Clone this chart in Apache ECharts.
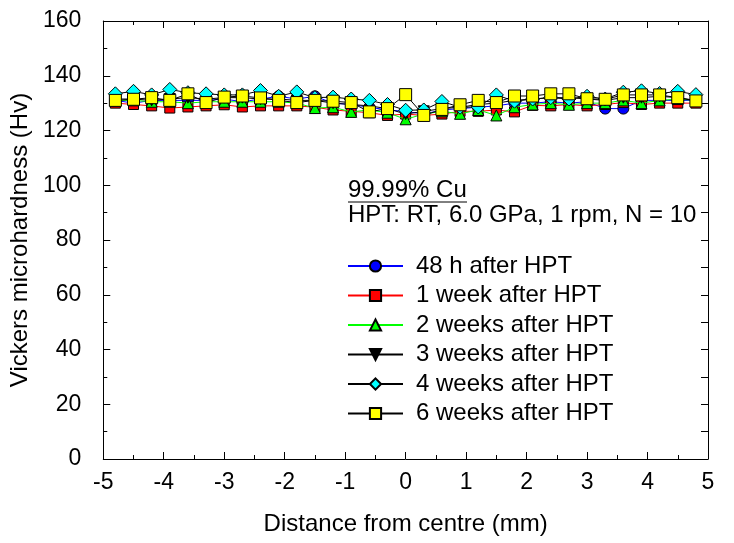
<!DOCTYPE html>
<html><head><meta charset="utf-8">
<script src="https://cdn.jsdelivr.net/npm/echarts@6/dist/echarts.min.js"></script>
<style>html,body{margin:0;padding:0;background:#fff}#c{width:734px;height:543px}</style>
</head><body><div id="c"></div>
<script>
const xPos = [-4.8,-4.5,-4.2,-3.9,-3.6,-3.3,-3.0,-2.7,-2.4,-2.1,-1.8,-1.5,-1.2,-0.9,-0.6,-0.3,0,0.3,0.6,0.9,1.2,1.5,1.8,2.1,2.4,2.7,3.0,3.3,3.6,3.9,4.2,4.5,4.8];
const h48 =   [131,130,131,131,131,131,131.5,130.5,131.5,132.5,131.5,132.5,130,129.5,128.5,127.5,127,126,127.5,128,128.5,129,130,130,130.5,130,130.5,128,128,131,131,131,131];
const w1 =    [130,129.5,129,128.2,128.6,129,129.4,128.6,129,129,129,128.5,127.5,127,126.5,125.5,126,125.5,126,127,127,127.5,126.8,129.2,129,129.5,129,129.5,130.2,129.5,130,130,130];
const w2 =    [131,131,130.5,130.5,130,130.5,130.5,130.5,130.5,130.5,130,128.2,128.5,126.8,127.5,126.5,124.1,126,127,126.1,127.5,125.5,128.5,129.5,130,129.4,130,130,131,130,131,131.5,131];
const w3 =    [131.5,131.5,131,131.5,132,131.5,132,132,131.5,131.5,131,131,130,129.5,129,128,126,127,128,128.5,129.5,130,131,131.5,132,132,131.5,131,132,132,132.5,132,131];
const w4 =    [133.4,134.3,133,135,133.8,133.4,133,133,134.6,132.5,134.1,132,132.2,131.5,131,129.5,127.4,127.5,130.6,128.5,128.6,133,130.7,131.5,132,131.5,132.5,131.5,134,134.5,133.5,134.3,133.1];
const w6 =    [131,131.4,132,131,133.4,130.2,132.2,132.6,131.9,131,130.2,131,130.7,130.2,126.8,128,133.1,125.5,127.7,129.4,131,130.2,132.6,132.6,133.4,133.4,131.6,131.4,133,133,133,132,130.8];
const seriesNames = ['48 h after HPT','1 week after HPT','2 weeks after HPT','3 weeks after HPT','4 weeks after HPT','6 weeks after HPT'];
const xTicks = [-5,-4,-3,-2,-1,0,1,2,3,4,5];
const yTicks = [0,20,40,60,80,100,120,140,160];

const FONT = 'Arial, "Liberation Sans", sans-serif';
const FS = 23;
const FT = 24;
const specs = [
  {d:h48, line:'#0000ff', fill:'#0000ff', sym:'circle', size:11},
  {d:w1, line:'#ff0000', fill:'#ff0000', sym:'rect', size:10},
  {d:w2, line:'#00ff00', fill:'#00ff00', sym:'triangle', size:11},
  {d:w3, line:'#000000', fill:'#000000', sym:'path://M0,0 L10,0 L5,9 Z', size:11},
  {d:w4, line:'#000000', fill:'#00ffff', sym:'diamond', size:14},
  {d:w6, line:'#000000', fill:'#ffff00', sym:'rect', size:12}
];
const series = specs.map((s,i)=>({
  name: seriesNames[i], type:'line',
  data: xPos.map((x,j)=>[x, s.d[j]]),
  symbol: s.sym, symbolSize: s.size,
  lineStyle:{color:s.line, width:1},
  itemStyle:{color:s.fill, borderColor:'#000', borderWidth:1},
  emphasis:{disabled:true}, animation:false, z: 2+i
}));

const axisLine = {show:true, onZero:false, lineStyle:{color:'#000', width:1}};
const chart = echarts.init(document.getElementById('c'));
chart.setOption({
  backgroundColor:'#fff',
  animation:false,
  grid:{left:102, top:21, width:606, height:438, containLabel:false},
  legend:{
    orient:'vertical', left:347, top:254, padding:0, itemWidth:55, itemHeight:14, itemGap:5.5,
    textStyle:{fontFamily:FONT, fontSize:FT, color:'#000', padding:[0,0,0,8]},
    data: seriesNames
  },
  xAxis:[{
    type:'value', min:-5, max:5, interval:1, position:'bottom',
    name:'Distance from centre (mm)', nameLocation:'middle', nameGap:53,
    nameTextStyle:{fontFamily:FONT, fontSize:FT, color:'#000'},
    axisLine, axisTick:{inside:true, length:7, lineStyle:{color:'#000'}},
    minorTick:{show:true, splitNumber:2, length:4, lineStyle:{color:'#000'}},
    axisLabel:{fontFamily:FONT, fontSize:FS, color:'#000', margin:12, formatter:v=>xTicks.includes(v)?String(v):''},
    splitLine:{show:false}
  },{
    type:'value', min:-5, max:5, interval:1, position:'top',
    axisLine, axisTick:{inside:true, length:7, lineStyle:{color:'#000'}},
    minorTick:{show:true, splitNumber:2, length:4, lineStyle:{color:'#000'}},
    axisLabel:{show:false}, splitLine:{show:false}
  }],
  yAxis:[{
    type:'value', min:0, max:160, interval:20, position:'left',
    name:'Vickers microhardness (Hv)', nameLocation:'middle', nameGap:67,
    nameTextStyle:{fontFamily:FONT, fontSize:FT, color:'#000'},
    axisLine, axisTick:{inside:true, length:7, lineStyle:{color:'#000'}},
    minorTick:{show:true, splitNumber:2, length:4, lineStyle:{color:'#000'}},
    axisLabel:{fontFamily:FONT, fontSize:FS, color:'#000', margin:22, formatter:v=>yTicks.includes(v)?String(v):''},
    splitLine:{show:false}
  },{
    type:'value', min:0, max:160, interval:10, position:'right',
    axisLine, axisTick:{inside:true, length:7, lineStyle:{color:'#000'}},
    axisLabel:{show:false}, splitLine:{show:false}
  }],
  graphic:[
    {type:'text', left:348, top:178, style:{text:'99.99% Cu', font:FT+'px '+FONT, fill:'#000'}},
    {type:'line', shape:{x1:348, y1:202, x2:467, y2:202}, style:{stroke:'#000', lineWidth:1}},
    {type:'text', left:348, top:203, style:{text:'HPT: RT, 6.0 GPa, 1 rpm, N = 10', font:FT+'px '+FONT, fill:'#000'}}
  ],
  series
});
</script></body></html>
